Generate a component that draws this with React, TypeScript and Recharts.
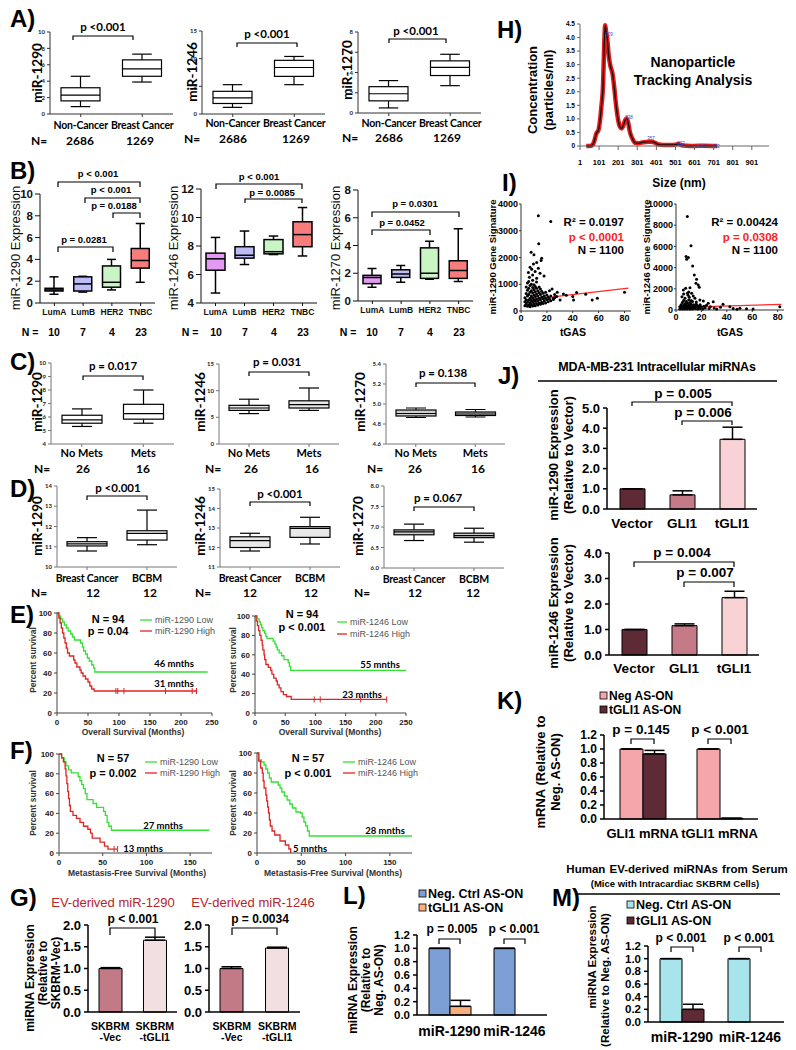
import React from 'react';
import {
  ComposedChart, BarChart, LineChart, ScatterChart, Bar, Line, Scatter,
  XAxis, YAxis, ErrorBar, Cell, ReferenceLine,
} from 'recharts';

// ================= DATA =================
const A_CATS = ['Non-Cancer', 'Breast Cancer'];
const A_1290 = [[0.9, 1.6, 2.3, 3.2, 4.6], [3.9, 4.6, 5.5, 6.6, 7.3]];
const A_1246 = [[1.2, 1.9, 2.9, 4.1, 5.3], [5.3, 6.8, 8.4, 9.7, 10.4]];
const A_1270 = [[0.5, 1.2, 1.9, 2.6, 3.2], [2.7, 3.7, 4.5, 5.15, 5.8]];

const B_CATS = ['LumA', 'LumB', 'HER2', 'TNBC'];
const B_COLORS = ['#e39af2', '#bcbcf7', '#c9f5c4', '#f77c7c'];
const B_1290 = [[0.8, 1.1, 1.2, 1.35, 2.4], [1.0, 1.1, 1.75, 2.4, 2.45], [1.2, 1.45, 1.9, 3.4, 4.0], [1.9, 3.2, 3.9, 5.0, 7.3]];
const B_1246 = [[4.7, 6.3, 7.1, 7.5, 8.6], [6.7, 7.15, 7.35, 7.95, 9.05], [7.4, 7.45, 7.6, 8.45, 8.7], [7.3, 7.95, 8.8, 9.7, 10.7]];
const B_1270 = [[1.0, 1.25, 1.7, 1.85, 2.35], [1.35, 1.7, 1.95, 2.25, 2.55], [1.56, 1.63, 2.0, 3.83, 4.3], [1.4, 1.63, 2.2, 2.9, 5.2]];

const C_CATS = ['No Mets', 'Mets'];
const C_1290 = [[5.3, 5.54, 5.79, 6.13, 6.6], [5.54, 5.84, 6.25, 6.94, 8.0]];
const C_1246 = [[5.7, 6.3, 6.75, 7.25, 8.4], [6.3, 6.75, 7.4, 8.1, 10.5]];
const C_1270 = [[4.865, 4.88, 4.905, 4.94, 4.96], [4.87, 4.885, 4.9, 4.92, 4.945]];

const D_CATS = ['Breast Cancer', 'BCBM'];
const D_1290 = [[10.79, 11.04, 11.14, 11.25, 11.45], [11.1, 11.33, 11.66, 11.79, 12.81]];
const D_1246 = [[11.82, 12.0, 12.35, 12.55, 12.73], [12.18, 12.52, 12.98, 13.07, 13.55]];
const D_1270 = [[6.67, 6.81, 6.88, 6.93, 7.07], [6.63, 6.74, 6.79, 6.85, 6.97]];

// Kaplan-Meier curves [months, % survival]
const E1_LOW = [[0, 100], [3, 97], [6, 94], [9, 91], [12, 88], [15, 85], [18, 82], [22, 79], [25, 76], [28, 73], [38, 70], [41, 66], [43, 62], [46, 59], [49, 55], [52, 52], [56, 48], [59, 45], [61, 41], [243, 41]];
const E1_HIGH = [[0, 100], [3, 95], [5, 90], [7, 85], [9, 80], [11, 75], [13, 70], [15, 65], [17, 60], [20, 57], [27, 53], [29, 50], [32, 46], [37, 43], [39, 40], [42, 37], [46, 34], [50, 31], [53, 27], [56, 24], [60, 22], [225, 22]];
const E1_CENS = [95, 98, 108, 175, 218, 225];
const E2_LOW = [[0, 100], [4, 97], [7, 94], [9, 91], [11, 88], [13, 85], [16, 82], [18, 79], [20, 77], [30, 74], [33, 71], [35, 68], [37, 65], [40, 62], [44, 59], [48, 55], [55, 52], [57, 48], [59, 44], [250, 44]];
const E2_HIGH = [[0, 100], [2, 95], [4, 90], [6, 85], [8, 80], [10, 75], [12, 70], [13, 65], [15, 60], [16, 55], [18, 50], [22, 47], [26, 44], [28, 40], [31, 36], [35, 33], [37, 29], [40, 26], [43, 22], [47, 19], [52, 17], [60, 14], [218, 14]];
const E2_CENS = [98, 108, 175, 218];
const F1_LOW = [[0, 100], [3, 96], [6, 92], [8, 88], [11, 84], [14, 81], [22, 77], [24, 73], [26, 69], [28, 65], [30, 60], [32, 54], [39, 50], [43, 46], [51, 42], [53, 38], [55, 31], [57, 27], [60, 23], [172, 23]];
const F1_HIGH = [[0, 100], [3, 96], [5, 92], [7, 85], [8, 78], [9, 70], [10, 62], [11, 55], [12, 48], [13, 42], [16, 38], [20, 35], [24, 31], [28, 27], [33, 24], [36, 20], [38, 15], [47, 11], [52, 7], [56, 4], [67, 4]];
const F1_CENS = [63, 67];
const F2_LOW = [[0, 100], [2, 93], [5, 91], [8, 88], [10, 84], [12, 80], [14, 75], [16, 71], [24, 68], [26, 65], [28, 61], [31, 57], [34, 53], [37, 49], [40, 45], [44, 41], [49, 40], [51, 36], [53, 31], [55, 27], [57, 22], [59, 17], [175, 17]];
const F2_HIGH = [[0, 100], [2, 92], [4, 85], [6, 80], [7, 72], [8, 65], [10, 58], [11, 52], [12, 46], [13, 40], [14, 33], [15, 27], [17, 22], [20, 18], [26, 12], [32, 8], [36, 4], [38, 0]];
const F2_CENS: number[] = [];

// Bars
const G_CATS = ['SKBRM\n-Vec', 'SKBRM\n-tGLI1'];
const G_COLORS = ['#c27b86', '#f2dfe2'];
const G1_VALS = [1.0, 1.65];
const G1_ERR = [0.02, 0.07];
const G2_VALS = [1.0, 1.47];
const G2_ERR = [0.04, 0.02];

const J_CATS = ['Vector', 'GLI1', 'tGLI1'];
const J_COLORS = ['#5e2a35', '#c47a87', '#f9d2d5'];
const J1_VALS = [1.0, 0.7, 3.45];
const J1_ERR = [0, 0.2, 0.6];
const J2_VALS = [1.0, 1.15, 2.25];
const J2_ERR = [0, 0.07, 0.25];

const K_CATS = ['GLI1 mRNA', 'tGLI1 mRNA'];
const K_NEG = [1.0, 1.0];
const K_NEG_ERR = [0, 0];
const K_TS = [0.93, 0.01];
const K_TS_ERR = [0.05, 0];

const LM_CATS = ['miR-1290', 'miR-1246'];
const L_NEG = [1.0, 1.0];
const L_NEG_ERR = [0, 0];
const L_TS = [0.13, 0.0];
const L_TS_ERR = [0.09, 0];
const M_NEG = [1.0, 1.0];
const M_NEG_ERR = [0, 0];
const M_TS = [0.2, 0.0];
const M_TS_ERR = [0.08, 0.08];

// Nanoparticle tracking [size nm, concentration]
const NTA = [[34, 0], [60, 0.01], [75, 0.16], [87, 0.47], [97, 0.57], [104, 0.84], [113, 1.45], [122, 2.31], [127, 3.54], [133, 4.45], [138, 4.2], [143, 4.0], [152, 3.3], [161, 2.93], [171, 2.68], [180, 2.19], [189, 1.57], [201, 0.96], [210, 0.71], [219, 0.65], [227, 0.74], [238, 0.96], [245, 1.02], [254, 0.84], [262, 0.53], [275, 0.28], [289, 0.12], [306, 0.1], [333, 0.14], [359, 0.16], [376, 0.16], [394, 0.12], [411, 0.06], [438, 0.04], [473, 0.04], [499, 0.05], [517, 0.07], [534, 0.03], [561, 0.01], [596, 0.0], [650, 0.01], [720, 0.0]];
const NTA_XT = [1, 101, 201, 301, 401, 501, 601, 701, 801, 901];
const NTA_YT = [0, 0.5, 1, 1.5, 2, 2.5, 3, 3.5, 4, 4.5];
const NTA_PEAKS = ['129', '238', '357', '522', '622', '722'];

// Scatter (tGAS vs signature)
const I1_PTS = [
  [13.4, 3560], [23, 3350], [13.7, 2510], [7.8, 2200], [10, 2100], [16, 1975], [15.5, 1890], [9.6, 1760], [12.1, 1810], [7, 1640], [8.3, 1560], [13.4, 1600], [10.9, 1475], [14.7, 1410], [5.7, 1440], [9, 1350], [17.8, 1310], [6.5, 1260], [12.1, 1225],
  [35, 590], [40, 540], [43, 690], [50, 625], [55, 410], [59, 475], [80, 700], [40.6, 410], [27.6, 540], [30.2, 410], [25, 475], [32.8, 640], [22, 760], [26, 620], [28, 700], [24, 820],
  [3, 200], [3, 350], [3, 500], [4, 250], [4, 420], [4, 650], [4, 900], [5, 180], [5, 330], [5, 560], [5, 780], [5, 1050], [6, 220], [6, 400], [6, 620], [6, 850], [6, 1100], [7, 160], [7, 300], [7, 480], [7, 700], [7, 950], [8, 240], [8, 380], [8, 560], [8, 760], [8, 1000], [9, 190], [9, 340], [9, 500], [9, 680], [9, 880], [9, 1150], [10, 260], [10, 420], [10, 600], [10, 800], [10, 980], [11, 200], [11, 360], [11, 540], [11, 720], [11, 920], [12, 280], [12, 450], [12, 640], [12, 850], [12, 1080], [13, 220], [13, 380], [13, 560], [13, 760], [14, 300], [14, 480], [14, 680], [14, 900], [15, 250], [15, 420], [15, 620], [15, 820], [16, 330], [16, 520], [16, 740], [17, 280], [17, 460], [17, 660], [18, 380], [18, 560], [19, 300], [19, 480], [19, 700], [20, 420], [20, 600], [21, 350], [21, 520], [22, 450], [23, 380], [23, 560], [25, 430], [26, 500],
];
const I1_REG = [[3, 407], [83, 855]];
const I2_PTS = [
  [8.9, 8820], [11.8, 6050], [7.9, 5040], [9.7, 4950], [8.4, 4790], [13.1, 4160], [14.4, 3310], [16.2, 2900], [17.5, 2360], [18.3, 2140], [15.7, 2520], [5.8, 1890], [7.6, 2050], [11, 2110], [8.9, 1575], [12.3, 1575], [13.6, 1320], [4.7, 1260], [7.1, 1100], [10.5, 1200], [14.9, 1100], [18.8, 945], [21.5, 850], [29.3, 790], [25.4, 630], [37, 535], [42.4, 315], [50.3, 160], [55.5, 126], [60.7, 95], [81.7, 315], [6, 1500], [9.5, 1400], [12, 900], [16, 750], [10, 1700],
  [3, 100], [3, 300], [4, 200], [4, 500], [5, 100], [5, 350], [5, 700], [6, 200], [6, 450], [6, 900], [7, 100], [7, 300], [7, 600], [8, 200], [8, 450], [8, 800], [9, 100], [9, 350], [9, 650], [10, 250], [10, 500], [10, 950], [11, 100], [11, 400], [11, 700], [12, 200], [12, 550], [13, 100], [13, 350], [13, 800], [14, 250], [14, 500], [15, 150], [15, 400], [16, 300], [16, 550], [17, 100], [17, 400], [18, 250], [19, 150], [19, 500], [20, 300], [21, 100], [22, 350], [23, 200], [24, 450], [26, 150], [27, 300], [30, 200], [32, 100], [35, 250], [45, 150], [48, 80],
];
const I2_REG = [[3, 241], [83, 537]];

// ================= LAYOUT HELPERS =================
const AR = "'Liberation Sans', Arial, Helvetica, sans-serif";
const LA = "Lato, 'Open Sans', sans-serif";
const GREEN = '#33e133';
const RED = '#e02424';
const LW = 60, MT = 16, MR = 16, XH = 44;
type F = { x0: number; x1: number; y0: number; y1: number };
const pos = (f: F): React.CSSProperties => ({ position: 'absolute', left: f.x0 - LW, top: f.y0 - MT });
const cw = (f: F) => LW + f.x1 - f.x0 + MR;
const chh = (f: F) => MT + f.y1 - f.y0 + XH;
const MARGIN = { top: MT, right: MR, bottom: 0, left: 0 };

function BoxShape(p: any) {
  const d = p.payload ?? p;
  const { x, y, width, height } = p;
  if (d == null || x == null) return <g />;
  const top = Math.min(y, y + height), h = Math.abs(height), bot = top + h;
  const span = d.max - d.min || 1;
  const py = (v: number) => bot - ((v - d.min) / span) * h;
  const cx = x + width / 2, c = (width * p.cap) / 2;
  const st = { stroke: '#000', strokeWidth: p.lw };
  return (
    <g>
      <line x1={cx} x2={cx} y1={py(d.max)} y2={py(d.q3)} {...st} />
      <line x1={cx} x2={cx} y1={py(d.q1)} y2={py(d.min)} {...st} />
      <line x1={cx - c} x2={cx + c} y1={py(d.max)} y2={py(d.max)} {...st} />
      <line x1={cx - c} x2={cx + c} y1={py(d.min)} y2={py(d.min)} {...st} />
      <rect x={x} y={py(d.q3)} width={width} height={Math.max(0.6, py(d.q1) - py(d.q3))} fill={d.color} {...st} />
      <line x1={x} x2={x + width} y1={py(d.med)} y2={py(d.med)} {...st} />
    </g>
  );
}

function BoxChart(p: {
  f: F; cats: string[]; vals: number[][]; colors?: string[]; domain: [number, number]; ticks: number[];
  fmt?: (v: number) => string; boxW: number; tickFont: any; catFont: any; catMargin: number; lw?: number; cap?: number; tsz?: number; axis?: string;
}) {
  const data = p.cats.map((name, i) => {
    const v = p.vals[i];
    return { name, min: v[0], q1: v[1], med: v[2], q3: v[3], max: v[4], range: [v[0], v[4]], color: p.colors ? p.colors[i] : '#fff' };
  });
  const ax = { stroke: p.axis ?? '#333', strokeWidth: 1 };
  return (
    <div style={pos(p.f)}>
      <ComposedChart width={cw(p.f)} height={chh(p.f)} data={data} margin={MARGIN}>
        <XAxis dataKey="name" height={XH} interval={0} tickSize={3} tickMargin={p.catMargin} tick={p.catFont} axisLine={ax} tickLine={ax} />
        <YAxis width={LW} type="number" domain={p.domain} ticks={p.ticks} interval={0} tickFormatter={p.fmt} tickSize={p.tsz ?? 3} tickMargin={2} tick={p.tickFont} axisLine={ax} tickLine={ax} allowDataOverflow />
        <Bar dataKey="range" barSize={p.boxW} isAnimationActive={false}
          shape={(s: any) => <BoxShape {...s} lw={p.lw ?? 1.2} cap={p.cap ?? 0.5} />} />
      </ComposedChart>
    </div>
  );
}

const censDot = (d: any) =>
  d && d.payload && d.payload.c ? (
    <line key={`c${d.index}`} x1={d.cx} x2={d.cx} y1={d.cy - 3} y2={d.cy + 3} stroke={RED} strokeWidth={1} />
  ) : (
    <g key={`n${d ? d.index : 0}`} />
  );

function KM(p: { f: F; xMax: number; xTicks: number[]; low: number[][]; high: number[][]; cens: number[] }) {
  const low = p.low.map(([t, s]) => ({ t, s, c: 0 }));
  const lastS = p.high[p.high.length - 1][1];
  const high = [...p.high.map(([t, s]) => ({ t, s, c: 0 })), ...p.cens.map((t) => ({ t, s: lastS, c: 1 }))].sort((a, b) => a.t - b.t);
  const ax = { stroke: '#444', strokeWidth: 1 };
  const tf = { fontSize: 8, fontWeight: 700, fontFamily: AR, fill: '#222' };
  return (
    <div style={pos(p.f)}>
      <LineChart width={cw(p.f)} height={chh(p.f)} margin={MARGIN}>
        <XAxis type="number" dataKey="t" domain={[0, p.xMax]} ticks={p.xTicks} interval={0} height={XH} tickSize={3} tickMargin={3} tick={tf} axisLine={ax} tickLine={ax} allowDataOverflow />
        <YAxis type="number" width={LW} domain={[0, 100]} ticks={[0, 20, 40, 60, 80, 100]} interval={0} tickSize={3} tickMargin={2} tick={tf} axisLine={ax} tickLine={ax} />
        <Line data={low} dataKey="s" type="stepAfter" stroke={GREEN} strokeWidth={1.3} dot={false} isAnimationActive={false} />
        <Line data={high} dataKey="s" type="stepAfter" stroke={RED} strokeWidth={1.3} dot={censDot} isAnimationActive={false} />
      </LineChart>
    </div>
  );
}

const TwoLineTick = (t: any) => {
  const [a, b] = String(t.payload.value).split('\n');
  const st = { fontSize: 10.5, fontWeight: 700, fontFamily: AR, fill: '#000', textAnchor: 'middle' as const };
  return (
    <g>
      <text x={t.x} y={t.y + 18} {...st}>{a}</text>
      <text x={t.x} y={t.y + 29} {...st}>{b}</text>
    </g>
  );
};

function Bars(p: {
  f: F; cats: string[]; series: { vals: number[]; errs: number[]; colors: string[] }[];
  domain: [number, number]; ticks: number[]; barSize: number; tickFs: number; catFs: number; catMargin: number; twoLine?: boolean;
}) {
  const data = p.cats.map((name, i) => {
    const row: any = { name };
    p.series.forEach((s, j) => { row['v' + j] = s.vals[i]; row['e' + j] = [0, s.errs[i]]; });
    return row;
  });
  const ax = { stroke: '#000', strokeWidth: 1.5 };
  const tf = { fontSize: p.tickFs, fontWeight: 700, fontFamily: AR, fill: '#000' };
  const cf = { fontSize: p.catFs, fontWeight: 700, fontFamily: AR, fill: '#000' };
  return (
    <div style={pos(p.f)}>
      <BarChart width={cw(p.f)} height={chh(p.f)} data={data} margin={MARGIN} barGap={0} barCategoryGap={0}>
        <XAxis dataKey="name" height={XH} interval={0} tickLine={false} tickSize={0} tickMargin={p.twoLine ? 0 : p.catMargin} tick={p.twoLine ? TwoLineTick : cf} axisLine={ax} />
        <YAxis width={LW} type="number" domain={p.domain} ticks={p.ticks} interval={0} tickFormatter={(v: number) => v.toFixed(1)} tickSize={4} tickMargin={3} tick={tf} axisLine={ax} tickLine={ax} />
        {p.series.map((s, j) => (
          <Bar key={j} dataKey={'v' + j} barSize={p.barSize} stroke="#000" strokeWidth={1} fill={s.colors[0]} isAnimationActive={false}>
            {data.map((_, i) => <Cell key={i} fill={s.colors[i % s.colors.length]} />)}
            <ErrorBar dataKey={'e' + j} width={10} stroke="#000" strokeWidth={1.5} direction="y" />
          </Bar>
        ))}
      </BarChart>
    </div>
  );
}

function NTAChart() {
  const f: F = { x0: 580, x1: 769, y0: 24, y1: 146 };
  const data = NTA.map(([x, y]) => ({ x, y }));
  const ax = { stroke: '#666', strokeWidth: 1 };
  return (
    <div style={pos(f)}>
      <LineChart width={cw(f)} height={chh(f)} data={data} margin={MARGIN}>
        <XAxis type="number" dataKey="x" domain={[1, 991]} ticks={NTA_XT} interval={0} height={XH} tickSize={4} tickMargin={10} tick={{ fontSize: 7.5, fontWeight: 700, fontFamily: AR, fill: '#000' }} axisLine={ax} tickLine={ax} allowDataOverflow />
        <YAxis width={LW} type="number" domain={[0, 4.5]} ticks={NTA_YT} interval={0} tickFormatter={(v: number) => (v === 0 ? '0' : v.toFixed(1))} tickSize={3} tickMargin={2} tick={{ fontSize: 6.5, fontWeight: 700, fontFamily: AR, fill: '#000' }} axisLine={ax} tickLine={ax} />
        <Line dataKey="y" type="monotone" stroke="#e51b1b" strokeWidth={4.5} dot={false} isAnimationActive={false} />
        <Line dataKey={(d: any) => d.y} type="monotone" stroke="#111" strokeWidth={1.3} dot={false} isAnimationActive={false} />
      </LineChart>
    </div>
  );
}

function Scat(p: { f: F; pts: number[][]; yMax: number; yTicks: number[]; reg: number[][] }) {
  const data = p.pts.map(([x, y]) => ({ x, y }));
  const ax = { stroke: '#333', strokeWidth: 1 };
  const tf = { fontSize: 9, fontWeight: 700, fontFamily: AR, fill: '#000' };
  return (
    <div style={pos(p.f)}>
      <ScatterChart width={cw(p.f)} height={chh(p.f)} margin={MARGIN}>
        <XAxis type="number" dataKey="x" domain={[0, 85]} ticks={[0, 20, 40, 60, 80]} interval={0} height={XH} tickSize={2} tickMargin={2} tick={tf} axisLine={ax} tickLine={ax} />
        <YAxis type="number" dataKey="y" width={LW} domain={[0, p.yMax]} ticks={p.yTicks} interval={0} tickSize={2} tickMargin={1} tick={tf} axisLine={ax} tickLine={ax} />
        <Scatter data={data} isAnimationActive={false} shape={(s: any) => <circle cx={s.cx} cy={s.cy} r={1.5} fill="#000" />} />
        <ReferenceLine segment={[{ x: p.reg[0][0], y: p.reg[0][1] }, { x: p.reg[1][0], y: p.reg[1][1] }]} stroke="#ff2a2a" strokeWidth={1.2} />
      </ScatterChart>
    </div>
  );
}

// ================= ANNOTATIONS =================
function buildOverlay() {
  const out: React.ReactNode[] = [];
  let k = 0;
  const tx = (x: number, y: number, s: string, o: { s?: number; w?: number; a?: 'start' | 'middle' | 'end'; f?: string; c?: string; r?: boolean; ws?: number; ls?: number } = {}) => {
    out.push(
      <text key={k++} x={x} y={y} fontSize={o.s ?? 12} fontWeight={o.w ?? 700} fontFamily={o.f ?? AR} fill={o.c ?? '#000'}
        textAnchor={o.a ?? 'middle'} dominantBaseline="central" wordSpacing={o.ws} letterSpacing={o.ls}
        transform={o.r ? `rotate(-90 ${x} ${y})` : undefined}>{s}</text>,
    );
  };
  const br = (x1: number, x2: number, y: number, d1 = 4, d2 = d1, sw = 1.2) => {
    out.push(<path key={k++} d={`M${x1} ${y + d1}V${y}H${x2}V${y + d2}`} fill="none" stroke="#000" strokeWidth={sw} />);
  };
  const ln = (x1: number, x2: number, y: number, c = '#000', sw = 1.5) => {
    out.push(<line key={k++} x1={x1} x2={x2} y1={y} y2={y} stroke={c} strokeWidth={sw} />);
  };
  const sq = (x: number, y: number, c: string) => {
    out.push(<rect key={k++} x={x} y={y} width={7} height={7} fill={c} stroke="#000" strokeWidth={0.8} />);
  };

  // panel letters
  const L = { s: 24, a: 'start' as const };
  tx(10, 18, 'A)', L); tx(10, 170, 'B)', L); tx(10, 361, 'C)', L); tx(10, 488, 'D)', L);
  tx(10, 614, 'E)', L); tx(10, 750, 'F)', L); tx(10, 897, 'G)', L); tx(497, 29, 'H)', L);
  tx(502, 182, 'I)', L); tx(498, 375, 'J)', L); tx(497, 700, 'K)', L); tx(343, 895, 'L)', L); tx(552, 897, 'M)', L);

  // A
  const la = { s: 13.5, f: LA, r: true };
  const lp = { s: 11.5, f: LA };
  const ln12 = { s: 12, f: LA };
  tx(37, 73, 'miR-1290', la); tx(103, 26, 'p <0.001', lp); br(73, 133, 36, 4);
  tx(39, 140, 'N=', ln12); tx(80, 140, '2686', ln12); tx(140, 140, '1269', ln12);
  tx(192, 72, 'miR-1246', la); tx(267, 33, 'p <0.001', lp); br(237, 297, 43, 4);
  tx(192, 138, 'N=', ln12); tx(233, 138, '2686', ln12); tx(296, 138, '1269', ln12);
  tx(347, 70, 'miR-1270', la); tx(416, 30, 'p <0.001', lp); br(389, 446, 39, 4);
  tx(350, 137, 'N=', ln12); tx(389, 137, '2686', ln12); tx(447, 137, '1269', ln12);

  // B
  const lb = { s: 13, w: 400, r: true, c: '#111' };
  const pb = { s: 9.5 };
  const nb = { s: 10.5 };
  tx(15, 248, 'miR-1290 Expression', lb);
  tx(98, 173, 'p < 0.001', pb); br(58, 140, 182, 5);
  tx(111, 189, 'p < 0.001', pb); br(85, 140, 198, 5);
  tx(114, 205, 'p = 0.0188', pb); br(113, 140, 213, 5);
  tx(84, 239, 'p = 0.0281', pb); br(58, 113, 247, 5);
  tx(30, 332, 'N =', nb); [54, 83, 112, 141].forEach((x, i) => tx(x, 332, ['10', '7', '4', '23'][i], nb));
  tx(173, 248, 'miR-1246 Expression', lb);
  tx(259, 176, 'p < 0.001', pb); br(216, 302, 184, 5);
  tx(272, 192, 'p = 0.0085', pb); br(245, 302, 199, 4);
  tx(190, 332, 'N =', nb); [216, 245, 274, 303].forEach((x, i) => tx(x, 332, ['10', '7', '4', '23'][i], nb));
  tx(335, 248, 'miR-1270 Expression', lb);
  tx(415, 203, 'p = 0.0301', pb); br(372, 459, 212, 5);
  tx(402, 222, 'p = 0.0452', pb); br(372, 430, 230, 5);
  tx(348, 332, 'N =', nb); [372, 401, 430, 459].forEach((x, i) => tx(x, 332, ['10', '7', '4', '23'][i], nb));

  // C
  tx(37, 402, 'miR-1290', la); tx(113, 365, 'p = 0.017', lp); br(83, 143, 376, 4);
  tx(42, 468, 'N=', ln12); tx(83, 468, '26', ln12); tx(143, 468, '16', ln12);
  tx(200, 402, 'miR-1246', la); tx(277, 361, 'p = 0.031', lp); br(249, 309, 372, 4);
  tx(213, 468, 'N=', ln12); tx(251, 468, '26', ln12); tx(312, 468, '16', ln12);
  tx(360, 402, 'miR-1270', la); tx(443, 372, 'p = 0.138', lp); br(416, 475, 383, 4);
  tx(375, 468, 'N=', ln12); tx(415, 468, '26', ln12); tx(478, 468, '16', ln12);

  // D
  tx(37, 526, 'miR-1290', la); tx(118, 487, 'p <0.001', lp); br(87, 147, 496, 4);
  tx(39, 592, 'N=', ln12); tx(93, 592, '12', ln12); tx(150, 592, '12', ln12);
  tx(200, 526, 'miR-1246', la); tx(280, 493, 'p <0.001', lp); br(250, 310, 502, 4);
  tx(203, 592, 'N=', ln12); tx(250, 592, '12', ln12); tx(311, 592, '12', ln12);
  tx(358, 526, 'miR-1270', la); tx(438, 497, 'p = 0.067', lp); br(414, 474, 507, 4);
  tx(362, 592, 'N=', ln12); tx(415, 592, '12', ln12); tx(473, 592, '12', ln12);

  // E / F
  const ks = { s: 8.5, r: true, c: '#333' };
  const kx = { s: 8.5, c: '#333' };
  const kn = { s: 11 };
  const lg = { s: 9, w: 400, a: 'start' as const, c: '#555' };
  const mn = { s: 9.5, f: LA };
  tx(33, 660, 'Percent survival', ks); tx(233, 660, 'Percent survival', ks);
  tx(33, 803, 'Percent survival', ks); tx(233, 803, 'Percent survival', ks);
  tx(133, 732, 'Overall Survival (Months)', kx); tx(330, 732, 'Overall Survival (Months)', kx);
  tx(137, 873, 'Metastasis-Free Survival (Months)', kx); tx(333, 873, 'Metastasis-Free Survival (Months)', kx);
  tx(108, 619, 'N = 94', kn); tx(108, 631, 'p = 0.04', kn);
  tx(302, 614, 'N = 94', kn); tx(302, 627, 'p < 0.001', kn);
  tx(113, 758, 'N = 57', kn); tx(113, 773, 'p = 0.002', kn);
  tx(308, 758, 'N = 57', kn); tx(308, 773, 'p < 0.001', kn);
  ln(140, 152, 620, GREEN, 1.3); tx(155, 620, 'miR-1290 Low', lg); ln(140, 152, 631, RED, 1.3); tx(155, 631, 'miR-1290 High', lg);
  ln(337, 347, 622, GREEN, 1.3); tx(350, 622, 'miR-1246 Low', lg); ln(337, 347, 634, RED, 1.3); tx(350, 634, 'miR-1246 High', lg);
  ln(145, 157, 762, GREEN, 1.3); tx(160, 762, 'miR-1290 Low', lg); ln(145, 157, 773, RED, 1.3); tx(160, 773, 'miR-1290 High', lg);
  ln(343, 355, 762, GREEN, 1.3); tx(358, 762, 'miR-1246 Low', lg); ln(343, 355, 773, RED, 1.3); tx(358, 773, 'miR-1246 High', lg);
  tx(174, 663, '46 mnths', mn); tx(174, 683, '31 mnths', mn); tx(380, 664, '55 mnths', mn); tx(362, 694, '23 mnths', mn);
  tx(163, 825, '27 mnths', mn); tx(143, 848, '13 mnths', mn); tx(385, 830, '28 mnths', mn); tx(310, 848, '5 mnths', mn);

  // G
  const gt = { s: 13, w: 400, c: '#b5252c' };
  const gy = { s: 12, r: true };
  tx(113, 902, 'EV-derived miR-1290', gt); tx(253, 902, 'EV-derived miR-1246', gt);
  tx(30, 978, 'miRNA Expression', gy); tx(43, 973, '(Relative to', gy); tx(56, 973, 'SKBRM-Vec)', gy);
  tx(133, 919, 'p < 0.001', { s: 12 }); br(110, 155, 928, 7, 9);
  tx(260, 919, 'p = 0.0034', { s: 12 }); br(232, 277, 928, 7, 7);

  // H
  tx(532, 90, 'Concentration', { s: 13, r: true }); tx(548, 90, '(particles/ml)', { s: 13, r: true });
  tx(679, 183, 'Size (nm)', { s: 12 });
  tx(693, 62, 'Nanoparticle', { s: 14 }); tx(693, 80, 'Tracking Analysis', { s: 14 });
  const pk = [[609, 34], [629, 117], [651, 138], [681, 143], [702, 146], [716, 146]];
  pk.forEach(([x, y], i) => tx(x, y, NTA_PEAKS[i], { s: 4.5, w: 400, c: '#3344cc' }));

  // I
  const iy = { s: 9.5, r: true };
  const ir = { s: 11.5, a: 'end' as const };
  tx(492, 257, 'miR-1290 Gene Signature', iy); tx(646, 257, 'miR-1246 Gene Signature', iy);
  tx(573, 332, 'tGAS', { s: 10.5 }); tx(730, 332, 'tGAS', { s: 10.5 });
  tx(624, 222, 'R² = 0.0197', ir); tx(624, 237, 'p < 0.0001', { ...ir, c: '#ff2020' }); tx(624, 250, 'N = 1100', ir);
  tx(778, 222, 'R² = 0.00424', ir); tx(778, 237, 'p = 0.0308', { ...ir, c: '#ff2020' }); tx(778, 250, 'N = 1100', ir);

  // J
  const jy = { s: 13, r: true };
  const jp = { s: 13.5 };
  tx(657, 367, 'MDA-MB-231 Intracellular miRNAs', { s: 12.5, ls: -0.2 }); ln(538, 777, 381, '#000', 1.5);
  tx(553, 455, 'miR-1290 Expression', jy); tx(568, 455, '(Relative to Vector)', jy);
  tx(683, 393, 'p = 0.005', jp); br(632, 732, 402, 4);
  tx(703, 412, 'p = 0.006', jp); br(682, 732, 421, 4);
  tx(553, 603, 'miR-1246 Expression', jy); tx(568, 603, '(Relative to Vector)', jy);
  tx(682, 552, 'p = 0.004', jp); br(634, 734, 562, 5);
  tx(705, 572, 'p = 0.007', jp); br(684, 734, 582, 5);

  // K
  sq(600, 692, '#f4a6aa'); tx(609, 695.5, 'Neg AS-ON', { s: 12, a: 'start' });
  sq(600, 706, '#5e2a35'); tx(609, 709.5, 'tGLI1 AS-ON', { s: 12, a: 'start' });
  tx(540, 772, 'mRNA (Relative to', { s: 13, r: true }); tx(555, 772, 'Neg. AS-ON)', { s: 13, r: true });
  tx(641, 729, 'p = 0.145', jp); br(631, 654, 739, 5);
  tx(720, 729, 'p < 0.001', jp); br(708, 731, 739, 5);

  // L
  sq(419, 890, '#7c9fd6'); tx(428, 894, 'Neg. Ctrl AS-ON', { s: 12.5, a: 'start' });
  sq(419, 904, '#f7ad7c'); tx(428, 908, 'tGLI1 AS-ON', { s: 12.5, a: 'start' });
  tx(353, 980, 'miRNA Expression', { s: 12, r: true }); tx(366, 980, '(Relative to', { s: 12, r: true }); tx(379, 980, 'Neg. AS-ON)', { s: 12, r: true });
  tx(452, 929, 'p = 0.005', { s: 12 }); br(439, 460, 939, 5);
  tx(514, 929, 'p < 0.001', { s: 12 }); br(504, 525, 939, 5);

  // M
  tx(677, 869, 'Human EV-derived miRNAs from Serum', { s: 11.5, ws: 1 });
  tx(675, 883, '(Mice with Intracardiac SKBRM Cells)', { s: 9.5 });
  ln(577, 780, 894, '#000', 1.5);
  sq(627, 901, '#a8e4ec'); tx(636, 905, 'Neg. Ctrl AS-ON', { s: 12.5, a: 'start' });
  sq(627, 917, '#5e2a35'); tx(636, 921, 'tGLI1 AS-ON', { s: 12.5, a: 'start' });
  tx(592, 957, 'miRNA Expression', { s: 11.5, r: true }); tx(605, 980, '(Relative to Neg. AS-ON)', { s: 11.5, r: true });
  tx(681, 938, 'p < 0.001', { s: 12 }); br(671, 693, 947, 5);
  tx(749, 938, 'p < 0.001', { s: 12 }); br(739, 761, 947, 5);
  return out;
}
const OVERLAY = buildOverlay();

// ================= APP =================
const tiny = { fontSize: 6, fontWeight: 700, fontFamily: LA, fill: '#222' };
const catA = { fontSize: 10.5, fontWeight: 700, fontFamily: LA, fill: '#000', letterSpacing: -0.2 };
const catC = { fontSize: 11, fontWeight: 700, fontFamily: LA, fill: '#000' };
const tickB = { fontSize: 11.5, fontWeight: 700, fontFamily: AR, fill: '#111' };
const catB = { fontSize: 8.5, fontWeight: 700, fontFamily: AR, fill: '#111' };
const f1 = (v: number) => v.toFixed(1);
const T12 = [0, 0.2, 0.4, 0.6, 0.8, 1.0, 1.2];

export default function App() {
  return (
    <div style={{ position: 'absolute', left: 0, top: 0, width: 796, height: 1050, background: '#fff', overflow: 'hidden' }}>
      {/* A */}
      <BoxChart f={{ x0: 50, x1: 173, y0: 32, y1: 114 }} cats={A_CATS} vals={A_1290} domain={[0, 10]} ticks={[0, 2, 4, 6, 8, 10]} boxW={39} tickFont={tiny} catFont={catA} catMargin={5} />
      <BoxChart f={{ x0: 202, x1: 325, y0: 31, y1: 114 }} cats={A_CATS} vals={A_1246} domain={[0, 15]} ticks={[0, 5, 10, 15]} boxW={39} tickFont={tiny} catFont={catA} catMargin={3} />
      <BoxChart f={{ x0: 358, x1: 481, y0: 32, y1: 113 }} cats={A_CATS} vals={A_1270} domain={[0, 8]} ticks={[0, 2, 4, 6, 8]} boxW={39} tickFont={tiny} catFont={catA} catMargin={4} />
      {/* B */}
      <BoxChart f={{ x0: 40, x1: 155, y0: 194, y1: 303 }} cats={B_CATS} vals={B_1290} colors={B_COLORS} domain={[0, 10]} ticks={[0, 2, 4, 6, 8, 10]} boxW={18} tickFont={tickB} catFont={catB} catMargin={3} lw={1.5} tsz={5} axis="#111" />
      <BoxChart f={{ x0: 201, x1: 317, y0: 189, y1: 303 }} cats={B_CATS} vals={B_1246} colors={B_COLORS} domain={[4, 12]} ticks={[4, 6, 8, 10, 12]} boxW={19} tickFont={tickB} catFont={catB} catMargin={3} lw={1.5} tsz={5} axis="#111" />
      <BoxChart f={{ x0: 358, x1: 473, y0: 190, y1: 301 }} cats={B_CATS} vals={B_1270} colors={B_COLORS} domain={[0, 8]} ticks={[0, 2, 4, 6, 8]} boxW={18} tickFont={tickB} catFont={catB} catMargin={3} lw={1.5} tsz={5} axis="#111" />
      {/* C */}
      <BoxChart f={{ x0: 51, x1: 174, y0: 363, y1: 444 }} cats={C_CATS} vals={C_1290} domain={[4, 10]} ticks={[4, 5, 6, 7, 8, 9, 10]} boxW={40} tickFont={tiny} catFont={catC} catMargin={2} axis="#777" />
      <BoxChart f={{ x0: 219, x1: 339, y0: 364, y1: 444 }} cats={C_CATS} vals={C_1246} colors={['#e8e8e8', '#e8e8e8']} domain={[0, 15]} ticks={[0, 5, 10, 15]} boxW={40} tickFont={tiny} catFont={catC} catMargin={2} axis="#777" />
      <BoxChart f={{ x0: 386, x1: 505, y0: 364, y1: 444 }} cats={C_CATS} vals={C_1270} colors={['#cfcfcf', '#cfcfcf']} domain={[4.6, 5.4]} ticks={[4.6, 4.8, 5.0, 5.2, 5.4]} fmt={f1} boxW={40} tickFont={tiny} catFont={catC} catMargin={2} axis="#777" />
      {/* D */}
      <BoxChart f={{ x0: 57, x1: 177, y0: 486, y1: 567 }} cats={D_CATS} vals={D_1290} domain={[10, 14]} ticks={[10, 11, 12, 13, 14]} boxW={40} tickFont={tiny} catFont={catA} catMargin={5} axis="#777" />
      <BoxChart f={{ x0: 220, x1: 340, y0: 489, y1: 567 }} cats={D_CATS} vals={D_1246} colors={['#e8e8e8', '#e8e8e8']} domain={[11, 15]} ticks={[11, 12, 13, 14, 15]} boxW={40} tickFont={tiny} catFont={catA} catMargin={5} axis="#777" />
      <BoxChart f={{ x0: 384, x1: 504, y0: 486, y1: 568 }} cats={D_CATS} vals={D_1270} colors={['#cfcfcf', '#cfcfcf']} domain={[6, 8]} ticks={[6, 6.5, 7, 7.5, 8]} fmt={f1} boxW={40} tickFont={tiny} catFont={catA} catMargin={5} axis="#777" />
      {/* E, F */}
      <KM f={{ x0: 57, x1: 212, y0: 613, y1: 713 }} xMax={250} xTicks={[0, 50, 100, 150, 200, 250]} low={E1_LOW} high={E1_HIGH} cens={E1_CENS} />
      <KM f={{ x0: 255, x1: 406, y0: 616, y1: 713 }} xMax={250} xTicks={[0, 50, 100, 150, 200, 250]} low={E2_LOW} high={E2_HIGH} cens={E2_CENS} />
      <KM f={{ x0: 59, x1: 212, y0: 754, y1: 853 }} xMax={175} xTicks={[0, 50, 100, 150]} low={F1_LOW} high={F1_HIGH} cens={F1_CENS} />
      <KM f={{ x0: 257, x1: 412, y0: 753, y1: 853 }} xMax={175} xTicks={[0, 50, 100, 150]} low={F2_LOW} high={F2_HIGH} cens={F2_CENS} />
      {/* G */}
      <Bars f={{ x0: 88, x1: 177, y0: 925, y1: 1012 }} cats={G_CATS} series={[{ vals: G1_VALS, errs: G1_ERR, colors: G_COLORS }]} domain={[0, 2]} ticks={[0, 0.5, 1, 1.5, 2]} barSize={23} tickFs={13} catFs={10.5} catMargin={0} twoLine />
      <Bars f={{ x0: 209, x1: 300, y0: 925, y1: 1012 }} cats={G_CATS} series={[{ vals: G2_VALS, errs: G2_ERR, colors: G_COLORS }]} domain={[0, 2]} ticks={[0, 0.5, 1, 1.5, 2]} barSize={23} tickFs={13} catFs={10.5} catMargin={0} twoLine />
      {/* H */}
      <NTAChart />
      {/* I */}
      <Scat f={{ x0: 521, x1: 631, y0: 204, y1: 311 }} pts={I1_PTS} yMax={4000} yTicks={[0, 1000, 2000, 3000, 4000]} reg={I1_REG} />
      <Scat f={{ x0: 676, x1: 784, y0: 204, y1: 310 }} pts={I2_PTS} yMax={10000} yTicks={[0, 2000, 4000, 6000, 8000, 10000]} reg={I2_REG} />
      {/* J */}
      <Bars f={{ x0: 607, x1: 757, y0: 408, y1: 509 }} cats={J_CATS} series={[{ vals: J1_VALS, errs: J1_ERR, colors: J_COLORS }]} domain={[0, 5]} ticks={[0, 1, 2, 3, 4, 5]} barSize={25} tickFs={13} catFs={13.5} catMargin={9} />
      <Bars f={{ x0: 609, x1: 759, y0: 553, y1: 655 }} cats={J_CATS} series={[{ vals: J2_VALS, errs: J2_ERR, colors: J_COLORS }]} domain={[0, 4]} ticks={[0, 1, 2, 3, 4]} barSize={25} tickFs={13} catFs={13.5} catMargin={8} />
      {/* K */}
      <Bars f={{ x0: 604, x1: 758, y0: 735, y1: 819 }} cats={K_CATS} series={[{ vals: K_NEG, errs: K_NEG_ERR, colors: ['#f4a6aa'] }, { vals: K_TS, errs: K_TS_ERR, colors: ['#5e2a35'] }]} domain={[0, 1.2]} ticks={T12} barSize={23} tickFs={12} catFs={13} catMargin={10} />
      {/* L */}
      <Bars f={{ x0: 417, x1: 547, y0: 935, y1: 1015 }} cats={LM_CATS} series={[{ vals: L_NEG, errs: L_NEG_ERR, colors: ['#7c9fd6'] }, { vals: L_TS, errs: L_TS_ERR, colors: ['#f7ad7c'] }]} domain={[0, 1.2]} ticks={T12} barSize={21} tickFs={11.5} catFs={14} catMargin={11} />
      {/* M */}
      <Bars f={{ x0: 648, x1: 784, y0: 946, y1: 1022 }} cats={LM_CATS} series={[{ vals: M_NEG, errs: M_NEG_ERR, colors: ['#a8e4ec'] }, { vals: M_TS, errs: M_TS_ERR, colors: ['#5e2a35'] }]} domain={[0, 1.2]} ticks={T12} barSize={22} tickFs={11.5} catFs={14} catMargin={10} />
      <svg width={796} height={1050} style={{ position: 'absolute', left: 0, top: 0, pointerEvents: 'none' }}>
        {OVERLAY}
      </svg>
    </div>
  );
}
